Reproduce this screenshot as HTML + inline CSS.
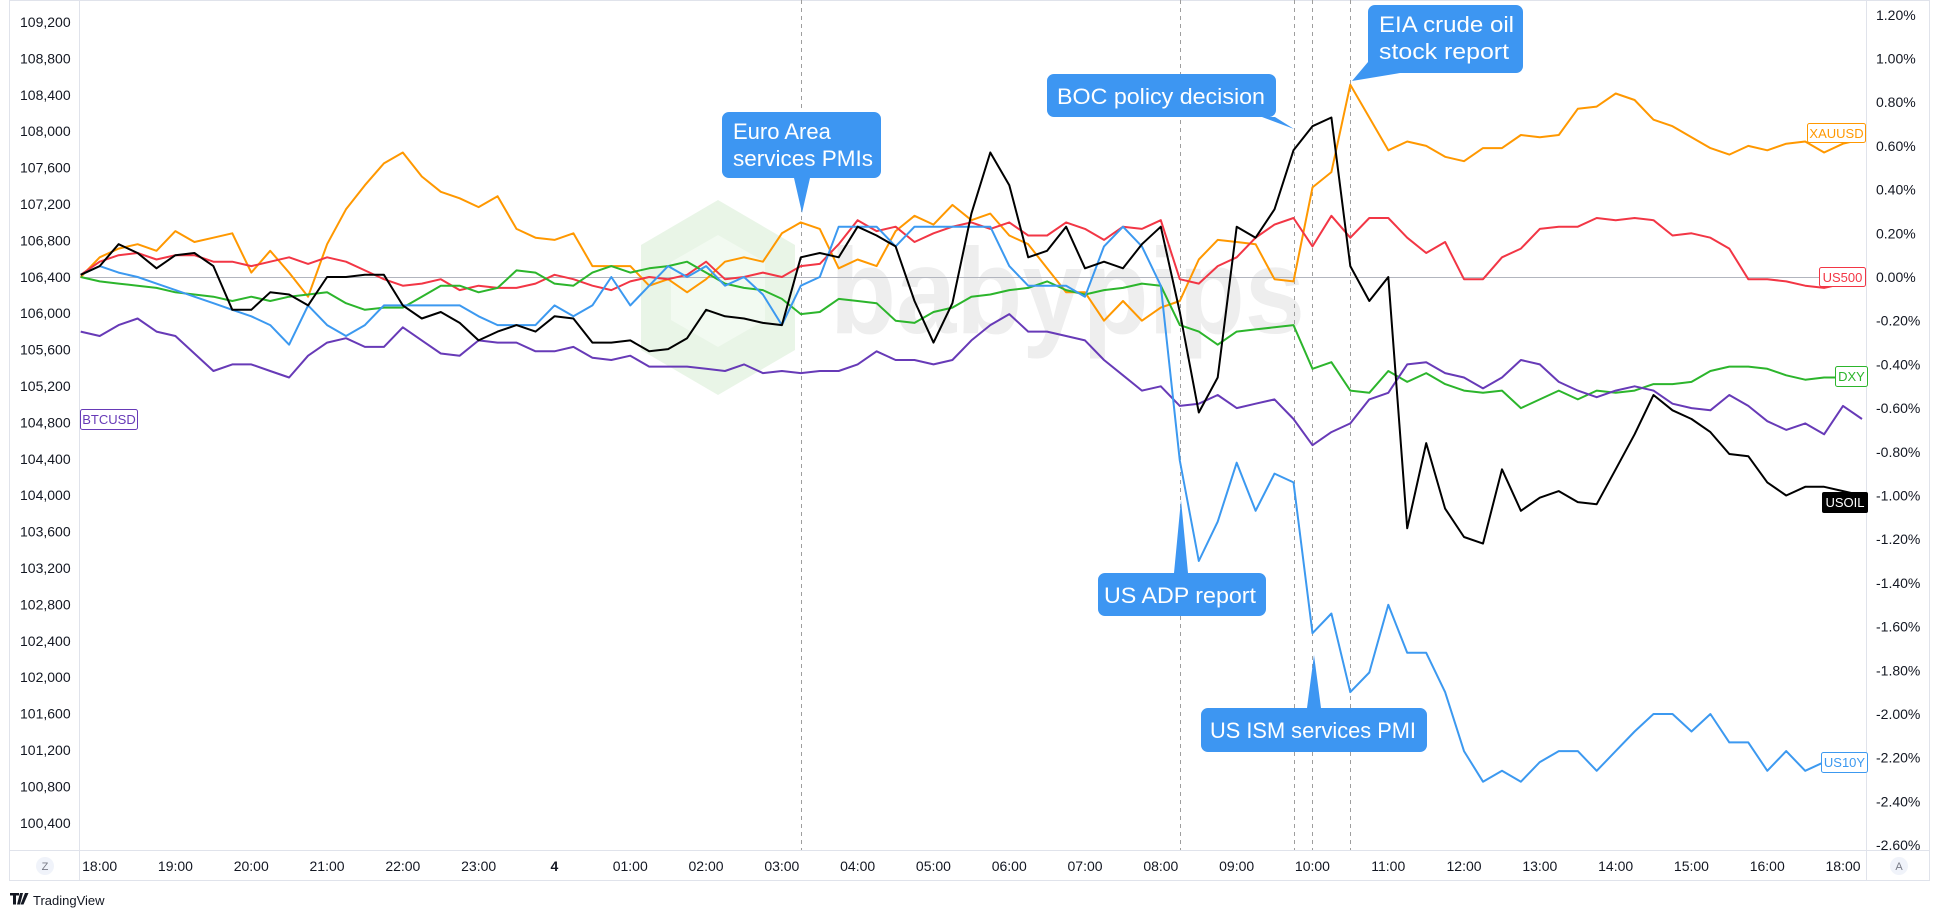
<!DOCTYPE html>
<html><head><meta charset="utf-8"><style>
html,body{margin:0;padding:0;background:#fff;}
svg{display:block;font-family:"Liberation Sans",sans-serif;}
</style></head><body>
<svg id="chart" width="1940" height="917" viewBox="0 0 1940 917" xmlns="http://www.w3.org/2000/svg">
<rect x="0" y="0" width="1940" height="917" fill="#fff"/>
<g fill="none" stroke="#e0e3eb" stroke-width="1">
<rect x="9.5" y="0.5" width="1920" height="880"/>
<line x1="79.5" y1="0" x2="79.5" y2="880"/>
<line x1="1866.5" y1="0" x2="1866.5" y2="880"/>
<line x1="9" y1="850.5" x2="1930" y2="850.5"/>
</g>
<g id="watermark">
<polygon points="718,200 795,245 795,350 718,395 641,350 641,245" fill="#e9f5e7"/>
<polygon points="718,235 765,262 765,320 718,347 671,320 671,262" fill="#f2faf1"/>
<text x="830" y="333" font-size="122" font-weight="bold" fill="#eeeeee" textLength="475" lengthAdjust="spacingAndGlyphs">babypips</text>
</g>
<line x1="80" y1="277.5" x2="1866" y2="277.5" stroke="#b2b5be" stroke-width="1"/>
<g id="vlines"></g>
<g id="series"></g>
<g id="leftAxis" font-size="14" fill="#131722"></g>
<g id="rightAxis" font-size="14" fill="#131722"></g>
<g id="timeAxis" font-size="14" fill="#131722"></g>
<g>
<circle cx="45" cy="866" r="9" fill="#f0f3fa"/>
<text x="45" y="870" font-size="11" fill="#787b86" text-anchor="middle">Z</text>
<circle cx="1899" cy="866" r="9" fill="#f0f3fa"/>
<text x="1899" y="870" font-size="11" fill="#787b86" text-anchor="middle">A</text>
</g>
<g font-size="13">
<g><rect x="1807.5" y="123.5" width="58" height="19" fill="#fff" stroke="#ff9800" rx="2"/><text x="1836.5" y="138" fill="#ff9800" text-anchor="middle">XAUUSD</text></g>
<g><rect x="1819.5" y="267.5" width="46" height="19" fill="#fff" stroke="#f23645" rx="2"/><text x="1842.5" y="282" fill="#f23645" text-anchor="middle">US500</text></g>
<g><rect x="1835.5" y="366.5" width="32" height="20" fill="#fff" stroke="#2cb52c" rx="2"/><text x="1851.5" y="381" fill="#2cb52c" text-anchor="middle">DXY</text></g>
<g><rect x="1822" y="492" width="46" height="21" fill="#000" rx="2"/><text x="1845" y="507" fill="#fff" text-anchor="middle">USOIL</text></g>
<g><rect x="1821.5" y="752.5" width="46" height="20" fill="#fff" stroke="#3c99f0" rx="2"/><text x="1844.5" y="767" fill="#3c99f0" text-anchor="middle">US10Y</text></g>
<g><rect x="80.5" y="409.5" width="57" height="20" fill="#fff" stroke="#673ab7" rx="2"/><text x="109" y="424" fill="#673ab7" text-anchor="middle">BTCUSD</text></g>
</g>
<g fill="#3d96f2" font-size="22">
<g>
<path d="M729,112 H874 a7,7 0 0 1 7,7 V171 a7,7 0 0 1 -7,7 H810 L802,213 L794,178 H729 a7,7 0 0 1 -7,-7 V119 a7,7 0 0 1 7,-7 Z"/>
<text x="733" y="139" fill="#fff">Euro Area</text><text x="733" y="166" fill="#fff" textLength="140" lengthAdjust="spacingAndGlyphs">services PMIs</text>
</g>
<g>
<path d="M1054,74 H1269 a7,7 0 0 1 7,7 V110 a7,7 0 0 1 -7,7 H1275 L1294,129 L1262,117 H1054 a7,7 0 0 1 -7,-7 V81 a7,7 0 0 1 7,-7 Z"/>
<text x="1057" y="104" fill="#fff" textLength="208" lengthAdjust="spacingAndGlyphs">BOC policy decision</text>
</g>
<g>
<path d="M1375,5 H1516 a7,7 0 0 1 7,7 V66 a7,7 0 0 1 -7,7 H1400 L1352,81 L1368,62 V12 a7,7 0 0 1 7,-7 Z"/>
<text x="1379" y="32" fill="#fff" textLength="135" lengthAdjust="spacingAndGlyphs">EIA crude oil</text><text x="1379" y="59" fill="#fff" textLength="130" lengthAdjust="spacingAndGlyphs">stock report</text>
</g>
<g>
<path d="M1105,573 H1174 L1181,500 L1188,573 H1259 a7,7 0 0 1 7,7 V609 a7,7 0 0 1 -7,7 H1105 a7,7 0 0 1 -7,-7 V580 a7,7 0 0 1 7,-7 Z"/>
<text x="1104" y="603" fill="#fff" textLength="152" lengthAdjust="spacingAndGlyphs">US ADP report</text>
</g>
<g>
<path d="M1208,708 H1307 L1314,655 L1321,708 H1420 a7,7 0 0 1 7,7 V745 a7,7 0 0 1 -7,7 H1208 a7,7 0 0 1 -7,-7 V715 a7,7 0 0 1 7,-7 Z"/>
<text x="1210" y="738" fill="#fff" textLength="206" lengthAdjust="spacingAndGlyphs">US ISM services PMI</text>
</g>
</g>
<g>
<path d="M10,893 h9 v2.5 h-3 v9 h-3 v-9 h-3 Z M20,893 h3 l-3,11.5 h-3 Z M25,893 h3.5 l-5,11.5 h-3 Z" fill="#131722"/>
<text x="33" y="905" font-size="13" fill="#131722">TradingView</text>
</g>
</svg>
<script>
const xauusd = [0.00,0.09,0.13,0.15,0.12,0.21,0.16,0.18,0.20,0.02,0.12,0.02,-0.09,0.15,0.31,0.42,0.52,0.57,0.46,0.39,0.36,0.32,0.37,0.22,0.18,0.17,0.20,0.05,0.05,0.05,-0.04,-0.01,-0.07,-0.01,
0.07,0.09,0.07,0.20,0.25,0.22,0.04,0.08,0.05,0.21,0.28,0.24,0.33,0.26,0.29,0.19,0.15,0.04,-0.07,-0.07,-0.20,-0.11,-0.20,-0.14,-0.11,0.08,0.17,0.16,0.15,-0.01,-0.02,0.41,0.48,
0.88,0.73,0.58,0.62,0.60,0.55,0.53,0.59,0.59,0.65,0.64,0.65,0.77,0.78,
0.84,0.81,0.72,0.69,0.64,0.59,0.56,0.60,0.58,0.61,0.62,0.57,0.61,0.63];
const us500 = [0.01,0.07,0.10,0.11,0.08,0.10,0.10,0.07,0.07,0.05,0.07,0.09,0.06,0.09,0.07,0.03,-0.01,-0.04,-0.03,-0.01,-0.06,-0.04,-0.05,-0.05,-0.03,0.01,-0.01,-0.04,-0.06,-0.02,0.00,-0.01,0.01,0.07,
-0.01,0.00,0.02,0.00,0.05,0.06,0.15,0.26,0.21,0.23,0.16,0.20,0.23,0.25,0.22,0.25,0.19,0.19,0.25,0.22,0.17,0.23,0.22,0.26,-0.01,-0.03,0.05,0.09,0.18,0.24,0.27,
0.14,0.28,0.18,0.27,0.27,0.18,0.11,0.16,-0.01,-0.01,0.09,0.13,0.22,0.23,0.23,0.27,0.26,0.27,0.26,0.19,0.20,0.18,0.13,-0.01,-0.01,-0.02,-0.04,-0.05,-0.03,-0.03];
const dxy = [0.00,-0.02,-0.03,-0.04,-0.05,-0.07,-0.08,-0.09,-0.11,-0.09,-0.11,-0.09,-0.08,-0.07,-0.12,-0.15,-0.14,-0.14,-0.09,-0.04,-0.04,-0.07,-0.05,0.03,0.02,-0.03,-0.04,0.02,0.05,0.02,0.04,0.05,0.07,0.02,
-0.03,-0.05,-0.06,-0.10,-0.17,-0.16,-0.10,-0.11,-0.12,-0.20,-0.21,-0.16,-0.14,-0.09,-0.08,-0.06,-0.05,-0.02,-0.06,-0.08,-0.06,-0.05,-0.03,-0.04,-0.22,-0.25,-0.31,-0.25,-0.24,-0.23,-0.22,
-0.42,-0.39,-0.52,-0.53,-0.43,-0.48,-0.44,-0.49,-0.52,-0.53,-0.52,-0.60,-0.56,-0.52,-0.56,-0.52,-0.53,-0.52,-0.49,-0.49,-0.48,-0.43,-0.41,-0.41,-0.42,-0.45,-0.47,-0.46,-0.46,-0.46];
const us10y = [0.01,0.05,0.02,0.00,-0.03,-0.06,-0.09,-0.12,-0.15,-0.18,-0.22,-0.31,-0.13,-0.22,-0.27,-0.22,-0.13,-0.13,-0.13,-0.13,-0.13,-0.18,-0.22,-0.22,-0.22,-0.13,-0.18,-0.13,0.00,-0.13,-0.04,0.05,0.00,0.05,
-0.04,0.00,-0.08,-0.22,-0.04,0.00,0.23,0.23,0.23,0.14,0.23,0.23,0.23,0.23,0.23,0.05,-0.04,-0.04,-0.04,-0.09,0.14,0.23,0.14,-0.04,
-0.84,-1.30,-1.12,-0.85,-1.07,-0.90,-0.94,-1.63,-1.54,-1.90,-1.81,-1.50,-1.72,-1.72,-1.90,-2.17,-2.31,-2.26,-2.31,-2.22,-2.17,-2.17,-2.26,-2.17,-2.08,-2.00,-2.00,-2.08,-2.00,-2.13,-2.13,-2.26,-2.17,-2.26,-2.22,-2.22,-2.20];
const btcusd = [-0.25,-0.27,-0.22,-0.19,-0.25,-0.27,-0.35,-0.43,-0.40,-0.40,-0.43,-0.46,-0.36,-0.30,-0.28,-0.32,-0.32,-0.23,-0.29,-0.35,-0.36,-0.29,-0.30,-0.30,-0.34,-0.34,-0.32,-0.37,-0.38,-0.36,-0.41,-0.41,-0.41,-0.42,
-0.43,-0.40,-0.44,-0.43,-0.44,-0.43,-0.43,-0.40,-0.34,-0.38,-0.38,-0.40,-0.38,-0.29,-0.22,-0.17,-0.25,-0.25,-0.27,-0.29,-0.38,-0.45,-0.52,-0.50,-0.59,-0.58,-0.54,-0.60,-0.58,-0.56,-0.65,
-0.77,-0.71,-0.67,-0.56,-0.53,-0.40,-0.39,-0.44,-0.46,-0.51,-0.46,-0.38,-0.40,-0.48,-0.52,-0.55,-0.52,-0.50,-0.52,-0.58,-0.60,-0.61,-0.54,-0.59,-0.66,-0.70,-0.67,-0.72,-0.59,-0.65];
const usoil = [0.01,0.05,0.15,0.11,0.04,0.10,0.11,0.05,-0.15,-0.15,-0.07,-0.08,-0.13,0.00,0.00,0.01,0.01,-0.13,-0.19,-0.16,-0.21,-0.29,-0.25,-0.22,-0.25,-0.18,-0.19,-0.30,-0.30,-0.29,-0.34,-0.33,-0.28,-0.15,
-0.18,-0.19,-0.21,-0.22,0.09,0.11,0.09,0.23,0.19,0.14,-0.11,-0.30,-0.12,0.29,0.57,0.42,0.09,0.12,0.23,0.04,0.07,0.04,0.15,0.23,-0.16,-0.62,-0.46,0.23,0.18,0.31,0.58,
0.69,0.73,0.05,-0.11,0.00,-1.15,-0.76,-1.06,-1.19,-1.22,-0.88,-1.07,-1.01,-0.98,-1.03,-1.04,-0.88,-0.72,-0.54,-0.61,-0.65,-0.71,-0.81,-0.82,-0.94,-1.00,-0.96,-0.96,-0.98,-1.00];
const leftTicks = ["109,200","108,800","108,400","108,000","107,600","107,200","106,800","106,400","106,000","105,600","105,200","104,800","104,400","104,000","103,600","103,200","102,800","102,400","102,000","101,600","101,200","100,800","100,400"];
const pctTicks = [1.2,1.0,0.8,0.6,0.4,0.2,0,-0.2,-0.4,-0.6,-0.8,-1.0,-1.2,-1.4,-1.6,-1.8,-2.0,-2.2,-2.4,-2.6];
const timeLabels = ["18:00","19:00","20:00","21:00","22:00","23:00","4","01:00","02:00","03:00","04:00","05:00","06:00","07:00","08:00","09:00","10:00","11:00","12:00","13:00","14:00","15:00","16:00","18:00"];
const timeBars = [1,5,9,13,17,21,25,29,33,37,41,45,49,53,57,61,65,69,73,77,81,85,89,93];
const eventBars = [38,58,64,65,67];

const NS="http://www.w3.org/2000/svg";
function X(k){return 80.7+k*18.95;}
function Y(p){return 277-p*218.5;}
function LY(i){return 22+i*36.4;}

const series=[["xauusd-line",xauusd,"#ff9800"],["us500-line",us500,"#f23645"],["dxy-line",dxy,"#2cb52c"],["btcusd-line",btcusd,"#673ab7"],["us10y-line",us10y,"#3c99f0"],["usoil-line",usoil,"#000000"]];
const sg=document.getElementById('series');
series.forEach(s=>{
  const p=document.createElementNS(NS,'polyline');
  p.setAttribute('points',s[1].map((v,k)=>X(k).toFixed(1)+','+Y(v).toFixed(1)).join(' '));
  p.setAttribute('fill','none');p.setAttribute('stroke',s[2]);p.setAttribute('stroke-width','2');p.setAttribute('stroke-linejoin','round');
  
  
  sg.appendChild(p);
});
const vg=document.getElementById('vlines');
eventBars.forEach(k=>{
  const l=document.createElementNS(NS,'line');
  const x=Math.round(X(k))+0.5;
  l.setAttribute('x1',x);l.setAttribute('x2',x);l.setAttribute('y1',0);l.setAttribute('y2',850);
  l.setAttribute('stroke','#9e9e9e');l.setAttribute('stroke-dasharray','4 4');
  
  
  vg.appendChild(l);
});
const lg=document.getElementById('leftAxis');
leftTicks.forEach((t,i)=>{
  const e=document.createElementNS(NS,'text');
  e.setAttribute('x',20);e.setAttribute('y',LY(i)+5);e.textContent=t;
  
  
  lg.appendChild(e);
});
const rg=document.getElementById('rightAxis');
pctTicks.forEach(v=>{
  const e=document.createElementNS(NS,'text');
  e.setAttribute('x',1876);e.setAttribute('y',Y(v)+5);e.textContent=v.toFixed(2)+'%';
  
  
  rg.appendChild(e);
});
const tg=document.getElementById('timeAxis');
timeLabels.forEach((t,i)=>{
  const e=document.createElementNS(NS,'text');
  e.setAttribute('x',X(timeBars[i]));e.setAttribute('y',871);e.setAttribute('text-anchor','middle');
  if(t==='4')e.setAttribute('font-weight','bold');
  e.textContent=t;
  
  
  tg.appendChild(e);
});
</script>
</body></html>
